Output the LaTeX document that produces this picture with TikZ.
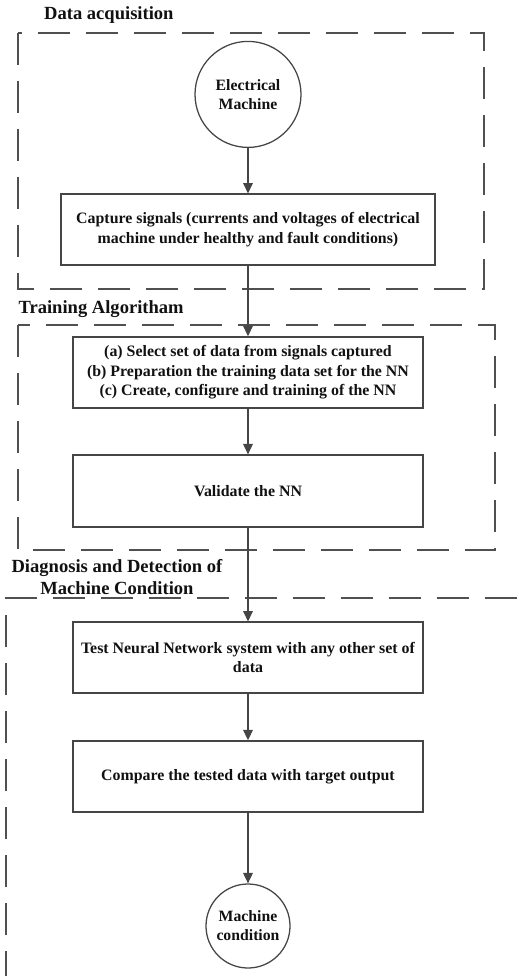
\documentclass[tikz,border=0pt]{standalone}
\usepackage{fontspec}
\setmainfont{Liberation Serif}
\usetikzlibrary{arrows.meta}
\definecolor{FDStroke}{HTML}{454545}
\definecolor{FDText}{HTML}{111111}
\definecolor{FDDash}{HTML}{505050}

\begin{document}
\begin{tikzpicture}[font=\bfseries,
  procbox/.style={draw=FDStroke,line width=0.9pt,minimum width=87.5mm,minimum height=17.75mm,align=center,text=FDText,font=\bfseries\fontsize{11.3}{13.8}\selectfont},
  termnode/.style={circle,draw=FDStroke,line width=0.9pt,inner sep=0pt,align=center,text=FDText,font=\bfseries\fontsize{11.2}{13.5}\selectfont},
  stagebox/.style={draw=FDDash,line width=1.2pt,dash pattern=on 8mm off 4mm},
  stagelabel/.style={text=FDText,font=\bfseries\fontsize{13.2}{15.6}\selectfont,align=center},
  flow/.style={draw=FDStroke,line width=0.9pt,-{Triangle[length=2.6mm,width=2.4mm]}}]
  \useasboundingbox (0,0) rectangle (12.925,-24.4);

  % stage frames
  \draw[stagebox] (0.45,-0.825) rectangle (12.1,-7.225);
  \draw[stagebox] (0.45,-8.125) rectangle (12.375,-13.75);
  \draw[stagebox] (12.925,-14.95) -- (0.15,-14.95) -- (0.15,-24.6);

  \node[stagelabel,anchor=west] (acqlabel) at (0.98,-0.38) {Data acquisition};
  \node[stagelabel,anchor=west] (trainlabel) at (0.34,-7.72) {Training Algoritham};
  \node[stagelabel] (diaglabel) at (2.925,-14.42) {Diagnosis and Detection of\\Machine Condition};

  % flow
  \node[termnode,minimum size=26.5mm] (machine) at (6.2,-2.36) {Electrical\\Machine};
  \node[procbox,minimum width=93.5mm] (capture) at (6.2,-5.74) {Capture signals (currents and voltages of electrical\\machine under healthy and fault conditions)};
  \node[procbox] (select) at (6.2,-9.31) {(a) Select set of data from signals captured\\(b) Preparation the training data set for the NN\\(c) Create, configure and training of the NN};
  \node[procbox,minimum height=18mm] (validate) at (6.2,-12.275) {Validate the NN};
  \node[procbox] (test) at (6.2,-16.44) {Test Neural Network system with any other set of\\data};
  \node[procbox] (compare) at (6.2,-19.41) {Compare the tested data with target output};
  \node[termnode,minimum size=21mm] (condition) at (6.2,-23.15) {Machine\\condition};

  \draw[flow] (machine) -- (capture);
  \draw[flow] (capture) -- (select);
  \draw[flow] (select) -- (validate);
  \draw[flow] (validate) -- (test);
  \draw[flow] (test) -- (compare);
  \draw[flow] (compare) -- (condition);
\end{tikzpicture}
\end{document}
